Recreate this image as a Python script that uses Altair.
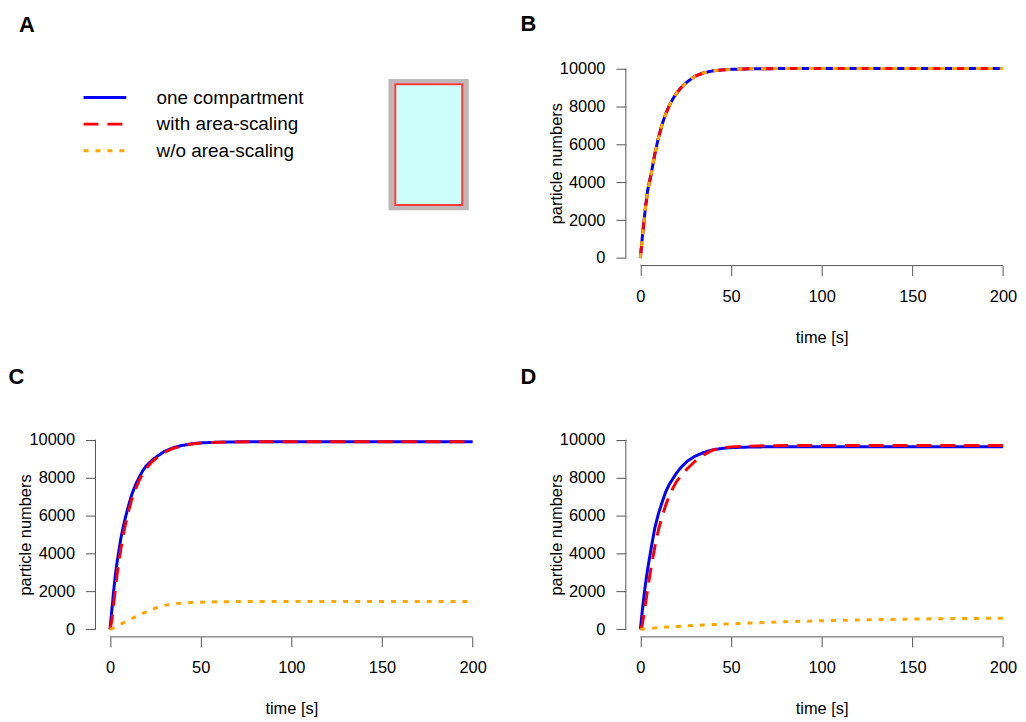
import altair as alt
import pandas as pd

# ---------------- data ----------------
T = [0, 1, 2, 3, 4, 6, 8, 10, 12, 14, 16, 18, 20, 23, 26, 30, 35, 40, 45, 50,
     60, 70, 80, 100, 125, 150, 175, 200]

B_ONE = [0, 1000, 1950, 2800, 3550, 4450, 5500, 6350, 7050, 7600, 8050, 8400, 8700, 9050,
         9300, 9580, 9770, 9870, 9920, 9950, 9975, 9985, 9990, 9990, 9990, 9990, 9990, 9990]
B_WITH = [0, 980, 1930, 2780, 3530, 4440, 5490, 6340, 7040, 7590, 8040, 8390, 8690, 9040,
          9295, 9575, 9770, 9870, 9920, 9950, 9975, 9985, 9990, 9990, 9990, 9990, 9990, 9990]
B_WO = [0, 990, 1940, 2790, 3540, 4445, 5495, 6345, 7045, 7595, 8045, 8395, 8695, 9045,
        9300, 9580, 9770, 9870, 9920, 9950, 9975, 9985, 9990, 9990, 9990, 9990, 9990, 9990]

C_ONE = [0, 1000, 2000, 2900, 3600, 4800, 5700, 6450, 7100, 7600, 8000, 8350, 8620, 8900,
         9120, 9380, 9580, 9700, 9780, 9830, 9870, 9885, 9890, 9890, 9890, 9890, 9890, 9890]
C_WITH = [0, 450, 1300, 2150, 2950, 4250, 5300, 6150, 6850, 7380, 7830, 8180, 8480, 8820,
          9060, 9330, 9550, 9690, 9770, 9820, 9865, 9880, 9890, 9890, 9890, 9890, 9890, 9890]
C_WO = [0, 30, 70, 120, 170, 270, 370, 470, 570, 660, 750, 840, 920, 1040,
        1150, 1260, 1340, 1385, 1410, 1430, 1450, 1460, 1460, 1460, 1460, 1460, 1460, 1460]

D_ONE = [0, 900, 1750, 2500, 3150, 4300, 5350, 6100, 6700, 7250, 7650, 7950, 8250, 8600,
         8870, 9120, 9330, 9460, 9540, 9580, 9610, 9625, 9630, 9630, 9630, 9630, 9630, 9630]
D_WITH = [0, 200, 800, 1450, 2100, 3300, 4350, 5250, 5950, 6550, 7050, 7450, 7800, 8150,
          8480, 8850, 9200, 9460, 9560, 9620, 9660, 9680, 9690, 9690, 9690, 9690, 9690, 9690]
D_WO = [0, 5, 15, 25, 35, 55, 75, 90, 105, 115, 125, 135, 150, 165,
        185, 205, 230, 250, 270, 290, 330, 360, 400, 450, 500, 540, 565, 585]

SERIES = ["one compartment", "with area-scaling", "w/o area-scaling"]
COLORS = ["#0000ff", "#ff0000", "#ffa500"]
DASHES = [[1, 0], [15, 9], [5, 7]]

X_TICKS = [0, 50, 100, 150, 200]
Y_TICKS = [0, 2000, 4000, 6000, 8000, 10000]
X_DOMAIN = [-8, 208]
Y_DOMAIN = [-400, 10400]

# schematic of the compartment in panel A (fractions of the panel, y from top)
MEMBRANE_BOX = {"x0": [0.748], "x1": [0.953], "y0": [0.089], "y1": [0.730]}
LUMEN_BOX = {"x0": [0.7655], "x1": [0.9363], "y0": [0.1146], "y1": [0.7039]}

# ---------------- styling ----------------
W, H = 394, 206
FONT = "Liberation Sans"
AXIS_COLOR = "#555555"


def panel_df(one, with_, wo):
    rows = []
    for name, vals in zip(SERIES, [one, with_, wo]):
        for t, v in zip(T, vals):
            rows.append({"series": name, "t": t, "v": v})
    return pd.DataFrame(rows)


xs = alt.Scale(domain=X_DOMAIN, nice=False, zero=False)
ys = alt.Scale(domain=Y_DOMAIN, nice=False, zero=False)
cs = alt.Scale(domain=SERIES, range=COLORS)
ds = alt.Scale(domain=SERIES, range=DASHES)

x_axis = alt.Axis(values=X_TICKS, domain=False, grid=False, tickSize=10, tickColor=AXIS_COLOR,
                  tickWidth=1, labelFontSize=16.5, labelFont=FONT, labelColor="#000",
                  labelPadding=13, labelFlush=False, labelOverlap=False, format="d",
                  title="time [s]", titleFontSize=16.5, titleFont=FONT, titleFontWeight="normal",
                  titleColor="#000", titleX=W / 2, titleY=72, titleBaseline="middle",
                  titleAlign="center")
y_axis = alt.Axis(values=Y_TICKS, domain=False, grid=False, tickSize=10, tickColor=AXIS_COLOR,
                  tickWidth=1, labelFontSize=16.5, labelFont=FONT, labelColor="#000",
                  labelPadding=11, labelFlush=False, labelOverlap=False, format="d",
                  labelAngle=0, labelAlign="right", labelBaseline="middle",
                  title="particle numbers", titleFontSize=16.5, titleFont=FONT,
                  titleFontWeight="normal", titleColor="#000", titleX=-70, titleY=H / 2,
                  titleAngle=270, titleBaseline="middle", titleAlign="center")

legend_spec = alt.Legend(title=None, orient="none", legendX=-547, legendY=27,
                         symbolType="stroke", symbolSize=1849, symbolStrokeWidth=3,
                         labelFontSize=19, labelFont=FONT, labelColor="#000",
                         labelOffset=29, rowPadding=6.7, clipHeight=20, padding=0,
                         direction="vertical")


def title(letter, dx, offset):
    return alt.TitleParams(text=letter, anchor="start", frame="group", fontSize=22,
                           fontWeight="bold", font=FONT, color="#000", dx=dx,
                           offset=offset, baseline="alphabetic")


def line_panel(one, with_, wo, letter, dx, offset, legend):
    df = panel_df(one, with_, wo)
    xaxis_line = alt.Chart(pd.DataFrame({"a": [X_TICKS[0]], "b": [X_TICKS[-1]]})).mark_rule(
        color=AXIS_COLOR, strokeWidth=1).encode(
        x=alt.X("a:Q", scale=xs, axis=x_axis), x2="b:Q",
        y=alt.YDatum(Y_DOMAIN[0], type="quantitative", scale=ys, axis=y_axis))
    yaxis_line = alt.Chart(pd.DataFrame({"a": [Y_TICKS[0]], "b": [Y_TICKS[-1]]})).mark_rule(
        color=AXIS_COLOR, strokeWidth=1).encode(
        y=alt.Y("a:Q", scale=ys, axis=y_axis), y2="b:Q",
        x=alt.XDatum(X_DOMAIN[0], type="quantitative", scale=xs, axis=x_axis))
    layers = [xaxis_line, yaxis_line]
    for name in SERIES:
        layers.append(
            alt.Chart(df).transform_filter(alt.datum.series == name).mark_line(
                strokeWidth=3, strokeCap="butt", strokeJoin="round").encode(
                x=alt.X("t:Q", scale=xs, axis=x_axis),
                y=alt.Y("v:Q", scale=ys, axis=y_axis),
                color=alt.Color("series:N", scale=cs, legend=legend),
                strokeDash=alt.StrokeDash("series:N", scale=ds, legend=legend),
            )
        )
    return alt.layer(*layers).properties(width=W, height=H, title=title(letter, dx, offset))


ax_unit = alt.Scale(domain=[0, 1], nice=False, zero=False)
ay_unit = alt.Scale(domain=[0, 1], nice=False, zero=False, reverse=True)
membrane = alt.Chart(pd.DataFrame(MEMBRANE_BOX)).mark_rect(color="#c0b8b8").encode(
    x=alt.X("x0:Q", scale=ax_unit, axis=None), x2="x1:Q",
    y=alt.Y("y0:Q", scale=ay_unit, axis=None), y2="y1:Q")
lumen = alt.Chart(pd.DataFrame(LUMEN_BOX)).mark_rect(
    fill="#ccfffa", stroke="#ff3b3b", strokeWidth=2).encode(
    x=alt.X("x0:Q", scale=ax_unit, axis=None), x2="x1:Q",
    y=alt.Y("y0:Q", scale=ay_unit, axis=None), y2="y1:Q")
panel_a = alt.layer(membrane, lumen).properties(width=W, height=H, title=title("A", -77, 7.2))

panel_b = line_panel(B_ONE, B_WITH, B_WO, "B", -105.9, 7.2, legend_spec)
panel_c = line_panel(C_ONE, C_WITH, C_WO, "C", -87.4, 26, None)
panel_d = line_panel(D_ONE, D_WITH, D_WO, "D", -105.9, 26, None)

chart = alt.concat(panel_a, panel_b, panel_c, panel_d, columns=2,
                   spacing={"row": 167.5, "column": 139.5}, bounds="flush",
                   padding={"left": 0, "top": 3, "right": 0, "bottom": 0},
                   background="white").resolve_scale(
    x="independent", y="independent", color="independent", strokeDash="independent"
).resolve_legend(color="independent", strokeDash="independent").configure(
    font=FONT, view=alt.ViewConfig(stroke="transparent", strokeWidth=0))

chart.save("out.html", embed_options={"renderer": "svg", "actions": False})
